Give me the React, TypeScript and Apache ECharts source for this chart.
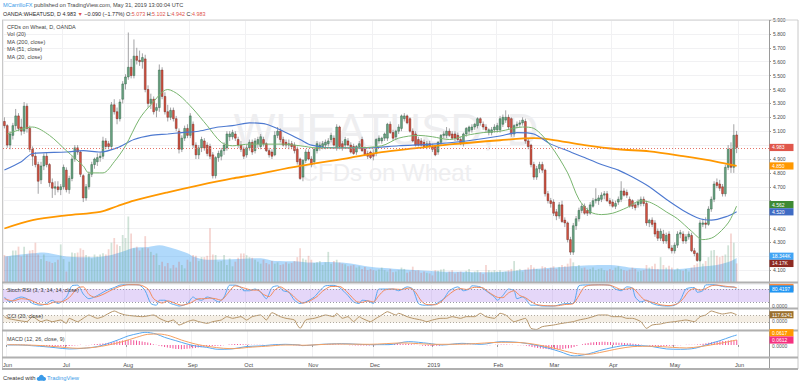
import React, { useEffect, useRef } from "react";
import * as echarts from "echarts";

const FONT = "'Liberation Sans', Arial, sans-serif";

// ---------- Daily candles [open, high, low, close] ----------
const ohlcJun18 = [
  [5.17, 5.2, 5.12, 5.14], [5.14, 5.15, 4.98, 5.0], [5.0, 5.1, 4.97, 5.08], [5.07, 5.16, 5.04, 5.14],
  [5.14, 5.26, 5.11, 5.21], [5.21, 5.23, 5.1, 5.12], [5.13, 5.19, 5.07, 5.1], [5.1, 5.31, 5.08, 5.28],
  [5.28, 5.3, 5.09, 5.12], [5.12, 5.14, 4.95, 4.97], [4.97, 4.99, 4.85, 4.92], [4.92, 4.95, 4.84, 4.86],
  [4.86, 4.88, 4.65, 4.74], [4.75, 4.88, 4.72, 4.85], [4.85, 4.94, 4.82, 4.92], [4.92, 4.95, 4.84, 4.86],
  [4.86, 4.87, 4.7, 4.73], [4.73, 4.76, 4.62, 4.69], [4.69, 4.74, 4.64, 4.7], [4.7, 4.74, 4.66, 4.68],
  [4.68, 4.72, 4.64, 4.7],
];
const ohlcJul18 = [
  [4.7, 4.86, 4.68, 4.84], [4.82, 4.84, 4.66, 4.68], [4.68, 4.78, 4.65, 4.76], [4.76, 4.92, 4.74, 4.9],
  [4.9, 5.0, 4.88, 4.98], [4.98, 5.0, 4.93, 4.95], [4.95, 4.96, 4.77, 4.79], [4.78, 4.79, 4.59, 4.62],
  [4.62, 4.72, 4.6, 4.7], [4.7, 4.81, 4.68, 4.79], [4.79, 4.88, 4.77, 4.86], [4.86, 4.91, 4.83, 4.9],
  [4.88, 4.94, 4.85, 4.91], [4.91, 4.95, 4.88, 4.92], [4.92, 5.06, 4.9, 5.03], [5.03, 5.05, 4.97, 4.99],
  [5.01, 5.03, 4.97, 4.99], [4.99, 5.31, 4.98, 5.29], [5.29, 5.33, 5.22, 5.24], [5.24, 5.27, 5.15, 5.19],
  [5.19, 5.33, 5.17, 5.31], [5.33, 5.46, 5.3, 5.44],
];
const ohlcAug18 = [
  [5.44, 5.51, 5.4, 5.49], [5.49, 5.81, 5.47, 5.56], [5.56, 5.62, 5.48, 5.5], [5.5, 5.76, 5.48, 5.64],
  [5.64, 5.7, 5.58, 5.61], [5.61, 5.68, 5.57, 5.6], [5.6, 5.66, 5.55, 5.63], [5.62, 5.65, 5.38, 5.4],
  [5.4, 5.43, 5.27, 5.3], [5.3, 5.37, 5.26, 5.33], [5.33, 5.35, 5.22, 5.24], [5.25, 5.3, 5.2, 5.27],
  [5.27, 5.58, 5.24, 5.54], [5.54, 5.56, 5.33, 5.35], [5.35, 5.38, 5.22, 5.24], [5.24, 5.29, 5.17, 5.2],
  [5.2, 5.27, 5.18, 5.25], [5.25, 5.27, 5.17, 5.19], [5.19, 5.21, 5.1, 5.12], [5.1, 5.12, 4.94, 4.97],
  [4.97, 5.07, 4.95, 5.05], [5.05, 5.14, 5.03, 5.12], [5.12, 5.15, 5.05, 5.07],
];
const ohlcSep18 = [
  [5.07, 5.23, 5.05, 5.21], [5.15, 5.17, 4.98, 5.0], [5.0, 5.02, 4.9, 4.93], [4.93, 5.0, 4.9, 4.98],
  [4.98, 5.06, 4.95, 5.04], [5.03, 5.05, 4.96, 4.98], [5.0, 5.02, 4.92, 4.94], [4.99, 5.01, 4.9, 4.92],
  [4.93, 4.95, 4.76, 4.78], [4.78, 4.92, 4.76, 4.91], [4.91, 4.96, 4.88, 4.94], [4.92, 4.98, 4.89, 4.96],
  [4.96, 5.02, 4.93, 5.0], [4.98, 5.1, 4.96, 5.08], [5.06, 5.1, 5.03, 5.08], [5.06, 5.11, 5.04, 5.09],
  [5.08, 5.1, 5.03, 5.05], [5.04, 5.06, 4.98, 5.0], [5.0, 5.03, 4.95, 4.97], [4.97, 4.99, 4.9, 4.92],
];
const ohlcOct18 = [
  [4.93, 5.0, 4.91, 4.98], [4.98, 5.04, 4.96, 5.02], [5.02, 5.04, 4.93, 4.95], [4.96, 5.05, 4.94, 5.03],
  [5.01, 5.06, 4.98, 5.04], [4.99, 5.08, 4.97, 5.06], [5.04, 5.06, 4.99, 5.01], [5.01, 5.02, 4.95, 4.96],
  [4.96, 4.98, 4.91, 4.93], [4.95, 4.97, 4.9, 4.92], [4.93, 5.1, 4.92, 5.07], [5.07, 5.13, 5.05, 5.1],
  [5.1, 5.12, 5.02, 5.04], [5.04, 5.06, 4.99, 5.0], [5.02, 5.04, 4.98, 5.0], [5.0, 5.04, 4.97, 5.01],
  [5.01, 5.03, 4.97, 4.99], [5.0, 5.02, 4.94, 4.96], [4.97, 4.99, 4.86, 4.88], [4.9, 4.91, 4.75, 4.76],
  [4.77, 4.9, 4.74, 4.89], [4.89, 4.97, 4.87, 4.95], [4.95, 4.97, 4.89, 4.9],
];
const ohlcNov18 = [
  [4.9, 4.92, 4.84, 4.86], [4.88, 4.98, 4.86, 4.97], [4.96, 5.03, 4.94, 5.01], [4.98, 5.02, 4.96, 5.0],
  [4.99, 5.03, 4.97, 5.01], [5.0, 5.04, 4.97, 5.02], [5.01, 5.05, 4.99, 5.03], [5.04, 5.09, 5.02, 5.07],
  [5.05, 5.07, 4.99, 5.0], [4.98, 5.15, 4.96, 5.13], [5.13, 5.14, 4.97, 4.99], [5.01, 5.03, 4.96, 4.98],
  [5.0, 5.06, 4.98, 5.04], [5.03, 5.05, 4.99, 5.0], [5.0, 5.02, 4.94, 4.95], [4.99, 5.01, 4.93, 4.94],
  [4.95, 5.0, 4.93, 4.99], [4.99, 5.03, 4.97, 5.01], [5.04, 5.06, 4.95, 4.96], [4.97, 4.99, 4.92, 4.93],
  [4.94, 4.96, 4.9, 4.92], [4.95, 4.96, 4.9, 4.91],
];
const ohlcDec18 = [
  [4.94, 4.97, 4.89, 4.92], [4.94, 5.05, 4.92, 5.04], [5.03, 5.07, 5.01, 5.05], [5.03, 5.06, 5.01, 5.05],
  [5.05, 5.09, 5.03, 5.08], [5.05, 5.16, 5.03, 5.15], [5.15, 5.17, 5.08, 5.09], [5.09, 5.11, 5.03, 5.05],
  [5.06, 5.11, 5.04, 5.1], [5.1, 5.15, 5.08, 5.13], [5.12, 5.22, 5.1, 5.21], [5.19, 5.23, 5.17, 5.21],
  [5.21, 5.22, 5.15, 5.16], [5.19, 5.2, 5.09, 5.1], [5.1, 5.12, 5.02, 5.03], [5.08, 5.1, 4.99, 5.0],
  [5.04, 5.06, 4.99, 5.0], [5.03, 5.05, 4.99, 5.0], [5.02, 5.04, 4.98, 4.99], [4.99, 5.03, 4.97, 5.01],
  [5.01, 5.03, 4.98, 4.99],
];
const ohlcJan19 = [
  [4.99, 5.01, 4.95, 4.97], [4.99, 5.0, 4.92, 4.93], [4.95, 5.03, 4.93, 5.02], [5.02, 5.08, 5.0, 5.07],
  [5.07, 5.1, 5.05, 5.08], [5.07, 5.13, 5.05, 5.1], [5.1, 5.12, 5.06, 5.07], [5.08, 5.1, 5.04, 5.05],
  [5.08, 5.1, 5.03, 5.05], [5.07, 5.09, 5.03, 5.04], [5.04, 5.06, 5.0, 5.01], [5.01, 5.09, 4.99, 5.08],
  [5.08, 5.13, 5.06, 5.12], [5.1, 5.14, 5.08, 5.13], [5.11, 5.15, 5.09, 5.13], [5.13, 5.16, 5.11, 5.15],
  [5.14, 5.2, 5.12, 5.19], [5.19, 5.2, 5.14, 5.16], [5.15, 5.17, 5.11, 5.13], [5.13, 5.15, 5.09, 5.11],
  [5.09, 5.12, 5.07, 5.11], [5.09, 5.13, 5.07, 5.11], [5.11, 5.15, 5.09, 5.13],
];
const ohlcFeb19 = [
  [5.11, 5.16, 5.09, 5.14], [5.11, 5.21, 5.09, 5.19], [5.15, 5.22, 5.13, 5.2], [5.18, 5.25, 5.16, 5.2],
  [5.2, 5.22, 5.11, 5.13], [5.19, 5.2, 5.06, 5.08], [5.08, 5.15, 5.06, 5.14], [5.14, 5.17, 5.12, 5.15],
  [5.15, 5.18, 5.13, 5.16], [5.16, 5.2, 5.14, 5.18], [5.17, 5.19, 5.01, 5.03], [5.03, 5.05, 4.97, 4.99],
  [5.0, 5.01, 4.84, 4.86], [4.86, 4.88, 4.75, 4.77], [4.77, 4.85, 4.75, 4.83], [4.83, 4.88, 4.8, 4.86],
  [4.86, 4.88, 4.8, 4.82], [4.82, 4.83, 4.63, 4.65], [4.65, 4.67, 4.58, 4.6], [4.6, 4.62, 4.55, 4.58],
];
const ohlcMar19 = [
  [4.59, 4.61, 4.49, 4.51], [4.52, 4.54, 4.46, 4.49], [4.49, 4.59, 4.47, 4.57], [4.57, 4.6, 4.44, 4.45],
  [4.46, 4.48, 4.41, 4.44], [4.44, 4.45, 4.3, 4.32], [4.32, 4.34, 4.21, 4.23], [4.23, 4.44, 4.21, 4.42],
  [4.42, 4.49, 4.39, 4.47], [4.47, 4.55, 4.45, 4.53], [4.53, 4.58, 4.51, 4.56], [4.56, 4.58, 4.5, 4.51],
  [4.53, 4.55, 4.49, 4.51], [4.51, 4.59, 4.5, 4.57], [4.56, 4.62, 4.55, 4.6], [4.6, 4.69, 4.58, 4.61],
  [4.6, 4.64, 4.57, 4.62], [4.61, 4.66, 4.59, 4.64], [4.64, 4.67, 4.61, 4.65], [4.65, 4.67, 4.59, 4.6],
  [4.6, 4.62, 4.56, 4.58],
];
const ohlcApr19 = [
  [4.59, 4.61, 4.55, 4.56], [4.56, 4.6, 4.54, 4.58], [4.59, 4.63, 4.57, 4.61], [4.61, 4.74, 4.59, 4.67],
  [4.67, 4.69, 4.63, 4.64], [4.66, 4.68, 4.62, 4.64], [4.61, 4.63, 4.55, 4.56], [4.6, 4.61, 4.54, 4.56],
  [4.57, 4.59, 4.53, 4.55], [4.57, 4.61, 4.55, 4.59], [4.58, 4.63, 4.56, 4.61], [4.61, 4.63, 4.56, 4.58],
  [4.58, 4.6, 4.42, 4.44], [4.44, 4.47, 4.41, 4.46], [4.46, 4.48, 4.41, 4.43], [4.44, 4.46, 4.34, 4.36],
  [4.38, 4.4, 4.31, 4.33], [4.33, 4.4, 4.31, 4.38], [4.36, 4.39, 4.29, 4.31], [4.31, 4.37, 4.29, 4.35],
  [4.36, 4.38, 4.25, 4.26], [4.26, 4.28, 4.22, 4.24],
];
const ohlcMay19 = [
  [4.24, 4.3, 4.22, 4.28], [4.28, 4.38, 4.26, 4.36], [4.36, 4.39, 4.33, 4.37], [4.36, 4.38, 4.29, 4.31],
  [4.31, 4.36, 4.29, 4.34], [4.34, 4.38, 4.32, 4.36], [4.35, 4.37, 4.23, 4.24], [4.24, 4.26, 4.2, 4.22],
  [4.22, 4.23, 4.16, 4.17], [4.17, 4.46, 4.16, 4.44], [4.43, 4.47, 4.41, 4.44], [4.44, 4.48, 4.4, 4.43],
  [4.43, 4.56, 4.42, 4.54], [4.54, 4.63, 4.52, 4.61], [4.61, 4.74, 4.59, 4.72], [4.73, 4.76, 4.69, 4.71],
  [4.72, 4.75, 4.67, 4.69], [4.7, 4.72, 4.63, 4.65], [4.65, 4.86, 4.63, 4.84], [4.84, 5.0, 4.82, 4.97],
  [4.97, 5.02, 4.8, 4.84], [4.84, 5.15, 4.8, 5.07], [5.073, 5.102, 4.942, 4.983],
];
const ohlc = [
  ...ohlcJun18, ...ohlcJul18, ...ohlcAug18, ...ohlcSep18, ...ohlcOct18, ...ohlcNov18,
  ...ohlcDec18, ...ohlcJan19, ...ohlcFeb19, ...ohlcMar19, ...ohlcApr19, ...ohlcMay19,
];

// ---------- Volume (thousands) ----------
const volJun18 = [20.6, 19.5, 19.5, 24, 24, 27, 19.5, 27, 21, 24, 24.5, 30, 21, 17.5, 21, 16, 15.5, 14.5, 15, 17, 28.7];
const volJul18 = [17.5, 8, 15.5, 22.5, 22, 22.5, 25.7, 24.5, 20.6, 19.5, 18, 21, 19.5, 21, 22, 21, 25, 30, 33.6, 28.7, 27.5, 35.9];
const volAug18 = [33.6, 50, 37, 25.7, 27, 24, 26, 35, 25.7, 23, 20.6, 21.8, 13, 15.5, 12, 14.5, 10.4, 13, 11, 15.5, 13, 10.4, 17];
const volSep18 = [15.5, 20.6, 20, 16, 19, 19, 20, 41, 21, 20.6, 15.5, 16, 20.6, 13, 18, 12, 15.5, 18.5, 21.8, 21.8];
const volOct18 = [20.5, 19, 18.5, 17, 15.5, 14, 17, 14.5, 13.5, 16, 14, 15, 13, 13.5, 15, 14, 14.5, 16, 19, 25.7, 18, 17, 20];
const volNov18 = [17, 14.5, 15, 16, 13, 15, 23, 14, 16, 17, 15, 14, 13.5, 12, 12.5, 13, 11, 12, 10, 11.5, 9, 10];
const volDec18 = [9, 8.5, 9.5, 11, 9, 8, 10, 7.5, 8, 9, 11, 10, 7, 8, 11.7, 8.5, 9, 7, 8, 7, 6.5];
const volJan19 = [5, 9, 8.5, 9.5, 10, 7, 8, 9, 6.5, 7.5, 8, 7, 8.5, 10, 7, 8, 9, 7.5, 6, 13, 9, 8, 9];
const volFeb19 = [8, 9, 7.5, 8, 9, 10, 16, 9, 10, 8, 9.5, 11, 13, 11, 10, 9.5, 12, 11.5, 10, 11];
const volMar19 = [12, 10, 11.5, 13, 12, 14, 18, 15, 11.7, 13, 10.5, 11, 9.5, 10, 11, 9, 10, 10.5, 9, 8.5, 10];
const volApr19 = [9, 11, 12, 10, 9, 8.5, 9.5, 11, 10, 8, 8.5, 9, 13, 11, 12, 14, 10, 19, 13, 11, 12.5, 11];
const volMay19 = [9, 10.5, 9, 8.5, 10, 8, 11, 13, 14.2, 18, 14, 16, 19, 24, 24.4, 20, 19, 20, 21, 28, 37, 30, 14.17];
const volumeK = [
  ...volJun18, ...volJul18, ...volAug18, ...volSep18, ...volOct18, ...volNov18,
  ...volDec18, ...volJan19, ...volFeb19, ...volMar19, ...volApr19, ...volMay19,
];

// ---------- Indicator lines: [bar index, value] ----------
const ma200Points = [
  [0, 4.4], [10, 4.46], [22, 4.495], [34, 4.52], [40, 4.56], [46, 4.6], [58, 4.66], [69, 4.71], [81, 4.76],
  [87, 4.78], [105, 4.85], [123, 4.91], [134, 4.95], [147, 4.98], [158, 5.005], [176, 5.035], [188, 5.05],
  [194, 5.04], [206, 5.0], [218, 4.97], [229, 4.955], [241, 4.92], [253, 4.88], [260, 4.85],
];
const ma51Points = [
  [0, 4.82], [6, 4.88], [10, 4.94], [22, 4.95], [28, 4.96], [34, 4.95], [40, 4.98], [46, 5.04], [52, 5.07],
  [58, 5.08], [63, 5.09], [69, 5.1], [76, 5.13], [81, 5.14], [87, 5.16], [93, 5.15], [99, 5.1], [105, 5.04],
  [109, 5.0], [117, 4.98], [129, 4.98], [140, 4.995], [152, 5.007], [164, 5.03], [176, 5.065], [182, 5.09],
  [188, 5.08], [194, 5.007], [200, 4.96], [206, 4.91], [212, 4.86], [218, 4.82], [223, 4.77], [229, 4.7],
  [235, 4.61], [241, 4.53], [247, 4.47], [251, 4.46], [257, 4.49], [260, 4.52],
];
const ma20Points = [
  [1, 5.08], [10, 5.13], [16, 5.07], [22, 4.96], [28, 4.85], [30, 4.8], [35, 4.8], [39, 4.88], [43, 4.995],
  [48, 5.19], [52, 5.29], [58, 5.4], [62, 5.36], [67, 5.26], [72, 5.14], [77, 5.02], [81, 4.995], [87, 5.007],
  [99, 5.007], [105, 4.995], [111, 4.98], [123, 4.98], [134, 4.995], [140, 5.05], [147, 5.07], [152, 5.06],
  [158, 5.04], [164, 5.07], [170, 5.09], [176, 5.1], [184, 5.13], [188, 5.12], [194, 4.995], [200, 4.8],
  [204, 4.61], [208, 4.52], [212, 4.5], [216, 4.51], [221, 4.55], [226, 4.6], [229, 4.59], [232, 4.56],
  [235, 4.52], [239, 4.47], [244, 4.38], [248, 4.32], [252, 4.34], [257, 4.44], [260, 4.562],
];
const volMa20Points = [
  [0, 19.5], [10, 21.9], [14, 22.6], [22, 19.5], [32, 18.9], [38, 20.6], [42, 23.2], [46, 26.2], [51, 26.8],
  [55, 28.1], [60, 25.6], [65, 21.9], [67, 19.5], [72, 16.9], [81, 17.3], [89, 18.1], [91, 18.1], [96, 16],
  [103, 15.8], [109, 14.8], [115, 15.3], [120, 14.8], [126, 13], [132, 11], [138, 10.2], [144, 9.4],
  [150, 8.6], [156, 7.9], [162, 7.9], [168, 7.4], [174, 7.4], [180, 8.2], [188, 9.9], [200, 11.7],
  [212, 12.9], [218, 12.5], [223, 10.9], [229, 10.2], [235, 9.7], [241, 10.2], [247, 11.7], [253, 12.9],
  [258, 16], [260, 18.344],
];
const stochKPoints = [
  [0, 43], [2, 20], [4, 35], [6, 43], [8, 35], [10, 13], [13, 5], [15, 13], [17, 28], [19, 13], [22, 43],
  [24, 95], [26, 98], [28, 57], [30, 35], [32, 43], [34, 57], [36, 72], [39, 87], [41, 98], [43, 100],
  [46, 100], [48, 98], [50, 72], [52, 13], [54, 5], [55, 28], [57, 28], [59, 13], [61, 5], [62, 1], [65, 13],
  [67, 43], [68, 35], [70, 28], [72, 43], [74, 35], [76, 20], [78, 43], [80, 98], [82, 98], [84, 87],
  [85, 72], [87, 72], [89, 80], [91, 65], [93, 35], [95, 87], [97, 95], [99, 72], [101, 65], [103, 28],
  [105, 13], [107, 20], [110, 43], [112, 72], [114, 95], [117, 97], [119, 87], [122, 50], [124, 20],
  [126, 13], [127, 28], [129, 25], [131, 13], [133, 80], [136, 80], [138, 80], [140, 72], [143, 90],
  [145, 80], [147, 13], [149, 5], [151, 5], [153, 10], [156, 35], [158, 72], [161, 90], [163, 72], [165, 80],
  [166, 95], [169, 90], [171, 72], [174, 43], [175, 28], [177, 50], [179, 80], [181, 72], [182, 35],
  [184, 43], [185, 35], [187, 5], [189, 5], [191, 1], [195, 1], [198, 10], [200, 13], [202, 13], [204, 95],
  [207, 99], [209, 99], [211, 100], [215, 97], [217, 80], [219, 72], [221, 90], [223, 84], [224, 43],
  [226, 20], [228, 28], [230, 13], [232, 5], [235, 1], [238, 5], [240, 28], [242, 80], [245, 87], [246, 65],
  [248, 72], [249, 99], [252, 100], [254, 95], [256, 90], [259, 90], [260, 80.4197],
];
const stochDPoints = [
  [0, 35], [3, 25], [6, 35], [9, 30], [12, 12], [15, 8], [18, 20], [20, 20], [23, 40], [26, 85], [28, 90],
  [30, 55], [32, 42], [35, 55], [38, 75], [41, 92], [44, 100], [48, 99], [51, 80], [53, 35], [56, 15],
  [58, 25], [61, 12], [63, 5], [66, 15], [69, 35], [71, 35], [73, 38], [75, 35], [77, 28], [79, 55], [82, 95],
  [85, 85], [88, 75], [90, 75], [92, 55], [94, 45], [96, 75], [98, 90], [100, 75], [102, 55], [104, 30],
  [106, 15], [108, 22], [111, 45], [113, 70], [116, 92], [119, 92], [121, 75], [123, 48], [125, 22],
  [127, 18], [129, 25], [131, 20], [133, 50], [135, 75], [138, 80], [141, 78], [144, 85], [146, 65],
  [148, 25], [150, 8], [153, 7], [155, 20], [157, 45], [160, 75], [162, 82], [164, 78], [167, 88], [170, 85],
  [172, 65], [175, 42], [177, 40], [179, 62], [181, 72], [183, 50], [185, 40], [187, 22], [189, 8], [192, 3],
  [196, 2], [199, 8], [202, 12], [204, 50], [206, 90], [209, 99], [212, 99], [215, 98], [217, 88], [219, 78],
  [221, 80], [223, 85], [225, 60], [227, 32], [229, 22], [231, 15], [233, 7], [236, 3], [239, 12], [241, 35],
  [243, 70], [245, 82], [247, 75], [249, 82], [251, 95], [253, 98], [256, 93], [258, 90], [260, 87],
];
const cciPoints = [
  [0, 65], [1, 19], [4, -28], [8, -74], [10, 65], [13, -74], [15, -28], [17, -74], [20, -28], [22, -121],
  [23, 19], [26, -74], [28, 19], [30, 111], [33, 19], [35, 65], [36, 111], [39, 222], [41, 158], [43, 111],
  [46, 84], [49, 65], [53, 111], [55, 19], [58, -74], [60, -28], [62, -167], [65, -74], [67, -28], [69, -74],
  [72, -121], [74, -74], [77, -28], [79, 65], [81, 19], [84, 65], [86, -28], [88, 65], [91, 111], [93, -28],
  [95, 176], [98, 65], [100, 19], [103, -28], [104, -167], [105, -260], [107, -28], [110, 19], [112, 65],
  [114, 111], [117, 65], [118, 158], [120, 19], [122, 65], [124, -74], [126, 65], [127, 19], [130, -74],
  [132, 19], [134, 111], [136, 203], [139, 111], [140, 158], [143, 65], [145, 19], [148, -28], [150, -74],
  [152, -28], [155, 19], [157, 19], [159, 65], [162, 19], [164, 65], [167, 65], [169, 158], [171, 65],
  [174, 19], [176, 158], [178, 111], [181, -74], [183, -28], [185, 19], [187, -260], [189, -290],
  [191, -213], [195, -167], [198, -121], [202, -74], [204, -28], [207, 19], [209, 65], [211, 111],
  [214, 111], [216, 65], [219, 65], [221, 19], [223, 19], [226, -74], [228, -260], [230, -167], [233, -139],
  [235, -102], [238, -74], [240, -50], [242, -28], [245, -74], [247, 65], [249, 111], [251, 222], [253, 176],
  [255, 139], [258, 176], [260, 117.6241],
];
const macdPoints = [
  [0, 0], [4, 0], [10, -0.012], [13, -0.02], [17, -0.033], [22, -0.049], [27, -0.041], [32, -0.02],
  [36, 0.02], [40, 0.07], [43, 0.111], [47, 0.144], [49, 0.156], [53, 0.135], [56, 0.094], [60, 0.053],
  [64, 0.012], [67, -0.012], [71, -0.029], [75, -0.053], [80, -0.049], [85, -0.02], [90, -0.012], [94, 0],
  [99, 0.008], [104, 0], [105, -0.008], [112, 0.008], [119, 0.016], [129, 0.004], [136, 0.004],
  [143, 0.041], [150, 0.02], [155, 0], [162, 0.02], [169, 0.008], [176, 0.041], [183, 0.029], [188, 0],
  [193, -0.041], [197, -0.082], [202, -0.135], [207, -0.111], [211, -0.07], [216, -0.029], [221, -0.004],
  [226, -0.008], [230, -0.02], [235, -0.049], [240, -0.053], [245, -0.041], [250, 0.012], [254, 0.053],
  [258, 0.102], [260, 0.1229],
];
const signalPoints = [
  [0, 0.004], [10, -0.004], [17, -0.02], [25, -0.041], [31, -0.029], [36, 0], [41, 0.041], [46, 0.094],
  [50, 0.131], [54, 0.135], [58, 0.111], [62, 0.061], [67, 0.012], [72, -0.02], [77, -0.041], [81, -0.045],
  [86, -0.029], [92, -0.016], [99, 0], [104, 0], [105, -0.004], [117, 0.012], [129, 0.008], [141, 0.025],
  [152, 0.008], [164, 0.012], [176, 0.033], [183, 0.029], [188, 0.008], [195, -0.041], [202, -0.102],
  [207, -0.115], [211, -0.094], [218, -0.045], [223, -0.02], [230, -0.016], [237, -0.029], [242, -0.037],
  [247, -0.02], [254, 0.02], [260, 0.0617],
];
const macdHist = [
  0.004, 0.005, 0.006, 0.006, 0.005, 0.004, 0.003, 0.004, 0.003, 0.0,
  -0.006, -0.01, -0.014, -0.016, -0.017, -0.018, -0.019, -0.02, -0.019, -0.018, -0.017,
  -0.015, -0.013, -0.01, -0.006, -0.002, 0.002, 0.0, -0.004, -0.002, 0.004,
  0.008, 0.012, 0.015, 0.018, 0.022, 0.026, 0.03, 0.04, 0.046, 0.05, 0.054, 0.058,
  0.06, 0.062, 0.058, 0.055, 0.05, 0.044, 0.038, 0.03, 0.02, 0.01, 0.002, -0.008, -0.015,
  -0.025, -0.032, -0.038, -0.044, -0.048, -0.05, -0.052, -0.05, -0.047, -0.044,
  -0.04, -0.036, -0.032, -0.028, -0.024, -0.02, -0.016, -0.014, -0.012, -0.01,
  -0.008, -0.004, 0.0, 0.006, 0.01, 0.012, 0.013, 0.012, 0.01, 0.008,
  0.006, 0.004, 0.003, 0.004, 0.003, 0.002, 0.0, -0.002, 0.002, 0.006, 0.008, 0.008, 0.006, 0.004, 0.002,
  0.0, -0.002, -0.004, -0.008, -0.012, -0.01, -0.006, -0.002, 0.0, 0.002, 0.004, 0.006, 0.008, 0.008, 0.008,
  0.008, 0.006, 0.006, 0.004, 0.002, 0.0, -0.002, -0.004, -0.006, -0.006, -0.006, -0.006, -0.006, -0.006, -0.004,
  -0.002, 0.0, 0.002, 0.004, 0.006, 0.008, 0.01, 0.012, 0.014, 0.014, 0.014, 0.014, 0.012, 0.01, 0.006,
  0.002, -0.004, -0.008, -0.012, -0.014, -0.014, -0.012, -0.01, -0.008, -0.004, 0.0, 0.002, 0.004, 0.004, 0.004,
  0.002, 0.002, 0.002, 0.004, 0.004, 0.004, 0.004, 0.004, 0.002, 0.0, -0.002, -0.002, 0.0, 0.002, 0.004,
  0.006, 0.006, 0.006, 0.004, 0.002, 0.0, -0.002, -0.002, -0.004, -0.01, -0.016, -0.024, -0.032, -0.038, -0.042,
  -0.046, -0.05, -0.052, -0.054, -0.054, -0.052, -0.05, -0.048, -0.044, -0.04, -0.034, -0.024, -0.012, 0.0, 0.01,
  0.018, 0.024, 0.03, 0.034, 0.036, 0.038, 0.04, 0.04, 0.038, 0.036, 0.032, 0.03, 0.028, 0.026, 0.024,
  0.022, 0.02, 0.016, 0.012, 0.008, 0.004, 0.0, -0.004, -0.008, -0.012, -0.014, -0.016, -0.016, -0.014, -0.012,
  -0.01, -0.008, -0.006, -0.004, -0.002, 0.0, 0.002, 0.004, 0.004, 0.004, 0.006, 0.01, 0.016, 0.022, 0.028,
  0.034, 0.04, 0.044, 0.046, 0.048, 0.05, 0.054, 0.058, 0.06, 0.0612,
];

const monthNames = ["Jan", "Feb", "Mar", "Apr", "May", "Jun", "Jul", "Aug", "Sep", "Oct", "Nov", "Dec"];
const EMPTY_SLOTS = 11; // blank space on the right of the last bar

// trading-day categories (weekdays) starting 2018-06-01
function buildDays(count: number): string[] {
  const out: string[] = [];
  let t = Date.UTC(2018, 5, 1);
  while (out.length < count) {
    const d = new Date(t);
    const wd = d.getUTCDay();
    if (wd !== 0 && wd !== 6) out.push(d.toISOString().slice(0, 10));
    t += 86400000;
  }
  return out;
}
const days = buildDays(ohlc.length + EMPTY_SLOTS);
const isMonthStart = (i: number) => i === 0 || days[i].slice(5, 7) !== days[i - 1].slice(5, 7);
const monthLabel = (v: string) => {
  const m = +v.slice(5, 7);
  return m === 1 ? v.slice(0, 4) : monthNames[m - 1];
};

const UP = "#6ba583", DOWN = "#d75442", UP_B = "#225437", DOWN_B = "#5b1a13";
const GRID_LINE = "#f1f1f3";
const L = 3, R = 31;

const grids = [
  { left: L, right: R, top: 20, height: 264.1 },  // price
  { left: L, right: R, top: 20, height: 262 },    // volume overlay
  { left: L, right: R, top: 283, height: 25 },    // stoch rsi
  { left: L, right: R, top: 309, height: 21 },    // cci
  { left: L, right: R, top: 331, height: 26 },    // macd
];

const priceFmt = (hidden: Set<string>) => (v: number) => (v < 4.05 || hidden.has(v.toFixed(3)) ? "" : v.toFixed(3));

function buildOption(): any {
  const xAxes = grids.map((_, gi) => ({
    type: "category",
    gridIndex: gi,
    data: days,
    axisLine: { show: false },
    axisTick: gi === 4 ? { show: true, length: 2, interval: (i: number) => isMonthStart(i), lineStyle: { color: "#999" } } : { show: false },
    axisLabel: gi === 4
      ? { show: true, interval: (i: number) => isMonthStart(i), formatter: monthLabel, fontSize: 5.6, color: "#4a4a4a", margin: 5, fontFamily: FONT }
      : { show: false },
    splitLine: gi === 1 ? { show: false } : { show: true, interval: (i: number) => isMonthStart(i), lineStyle: { color: GRID_LINE, width: 1 } },
  }));
  const hiddenY = (gi: number, min: number, max: number) => ({
    type: "value", gridIndex: gi, min, max, show: true,
    axisLine: { show: false }, axisTick: { show: false }, axisLabel: { show: false }, splitLine: { show: false },
  });
  const yAxes = [
    {
      type: "value", gridIndex: 0, position: "right", min: 4.0, max: 5.9, interval: 0.1,
      axisLine: { show: false },
      axisTick: { show: true, length: 2, lineStyle: { color: "#999" } },
      axisLabel: { fontSize: 5, color: "#4a4a4a", margin: 4, fontFamily: FONT, formatter: priceFmt(new Set()) },
      splitLine: { show: true, lineStyle: { color: GRID_LINE, width: 1 } },
    },
    hiddenY(1, 0, 200),
    hiddenY(2, -8, 108),
    hiddenY(3, -306, 278),
    hiddenY(4, -0.148, 0.172),
  ];

  const lineSeries = (name: string, xi: number, data: number[][], color: string, width: number, z = 4, extra: any = {}) => ({
    name, type: "line", xAxisIndex: xi, yAxisIndex: xi, data, smooth: 0.3, symbol: "none", z,
    lineStyle: { color, width }, silent: true, ...extra,
  });

  return {
    animation: false,
    backgroundColor: "#ffffff",
    grid: grids,
    xAxis: xAxes,
    yAxis: yAxes,
    series: [
      {
        name: "Volume", type: "bar", xAxisIndex: 1, yAxisIndex: 1, barWidth: "62%", z: 1, silent: true,
        data: volumeK.map((v, i) => ({
          value: v,
          itemStyle: { color: ohlc[i][3] >= ohlc[i][0] ? "rgba(107,165,131,0.32)" : "rgba(215,84,66,0.25)" },
        })),
      },
      lineSeries("Vol MA", 1, volMa20Points, "rgba(0,0,0,0)", 0, 1, {
        areaStyle: { color: "rgba(66,165,245,0.42)", opacity: 1 },
      }),
      {
        name: "Price", type: "custom", xAxisIndex: 0, yAxisIndex: 0, z: 3, silent: true,
        data: ohlc.map((d, i) => [i, d[0], d[1], d[2], d[3]]),
        encode: { x: 0, y: [1, 2, 3, 4] },
        renderItem: (_p: any, api: any) => {
          const i = api.value(0);
          const o = api.value(1), h = api.value(2), l = api.value(3), c = api.value(4);
          const po = api.coord([i, o]);
          const pc = api.coord([i, c]);
          const ph = api.coord([i, h]);
          const pl = api.coord([i, l]);
          const bw = Math.max(1.2, api.size([1, 0])[0] * 0.66);
          const x = po[0];
          const up = c >= o;
          const top = Math.min(po[1], pc[1]);
          const hh = Math.max(0.8, Math.abs(po[1] - pc[1]));
          return {
            type: "group",
            children: [
              { type: "line", shape: { x1: x, y1: ph[1], x2: x, y2: pl[1] }, style: { stroke: "#8b8b8e", lineWidth: 0.8 } },
              {
                type: "rect", shape: { x: x - bw / 2, y: top, width: bw, height: hh },
                style: { fill: up ? UP : DOWN, stroke: up ? UP_B : DOWN_B, lineWidth: 0.4 },
              },
            ],
          };
        },
      },
      lineSeries("MA 200", 0, ma200Points, "#ff9800", 1.8, 4, {
        markLine: {
          silent: true, symbol: "none", label: { show: false },
          lineStyle: { color: "#e57368", type: [1, 2], width: 1 },
          data: [{ yAxis: ohlc[ohlc.length - 1][3] }],
        },
      }),
      lineSeries("MA 51", 0, ma51Points, "#4d79d0", 1.1),
      lineSeries("MA 20", 0, ma20Points, "#79b56f", 1),
      lineSeries("Stoch K", 2, stochKPoints, "#58a8f0", 1, 4, {
        smooth: 0.25,
        markArea: { silent: true, itemStyle: { color: "rgba(160,110,235,0.28)" }, data: [[{ yAxis: 20 }, { yAxis: 80 }]] },
        markLine: {
          silent: true, symbol: "none", label: { show: false },
          lineStyle: { color: "#9a9aa4", type: [1, 2], width: 1 },
          data: [{ yAxis: 20 }, { yAxis: 80 }],
        },
      }),
      lineSeries("Stoch D", 2, stochDPoints, "#f38a5a", 1, 4, { smooth: 0.25 }),
      lineSeries("CCI", 3, cciPoints, "#b59468", 1, 4, {
        smooth: 0.2,
        markArea: { silent: true, itemStyle: { color: "rgba(200,170,120,0.2)" }, data: [[{ yAxis: -100 }, { yAxis: 100 }]] },
        markLine: {
          silent: true, symbol: "none", label: { show: false },
          lineStyle: { color: "#b0aaa0", type: [1, 2], width: 1 },
          data: [{ yAxis: -100 }, { yAxis: 100 }],
        },
      }),
      {
        name: "Histogram", type: "bar", xAxisIndex: 4, yAxisIndex: 4, data: macdHist, barWidth: 1, z: 3, silent: true,
        itemStyle: { color: "#f2559a" },
      },
      lineSeries("MACD", 4, macdPoints, "#58a8f0", 1),
      lineSeries("Signal", 4, signalPoints, "#f5a061", 1),
    ],
  };
}

function txt(x: number, y: number, text: string, size: number, fill: string, extra: any = {}): any {
  return {
    type: "text", x, y, z: 50, silent: true,
    style: { text, fontSize: size, fontFamily: FONT, fill, textVerticalAlign: "middle", verticalAlign: "middle", ...extra },
  };
}
function hline(x1: number, x2: number, y: number, color: string, w = 1): any {
  return { type: "line", z: 60, silent: true, shape: { x1, y1: y, x2, y2: y }, style: { stroke: color, lineWidth: w } };
}
function vline(x: number, y1: number, y2: number, color: string, w = 1): any {
  return { type: "line", z: 60, silent: true, shape: { x1: x, y1, x2: x, y2 }, style: { stroke: color, lineWidth: w } };
}

function staticGraphics(): any[] {
  const red = "#e0534a", dark = "#262626";
  const plotR = 800 - R;
  return [
    // watermark
    {
      type: "text", x: (L + plotR) / 2, y: 129, z: 0, silent: true,
      style: { text: "WHEATUSD, D", fontSize: 44, fontFamily: FONT, fill: "#eeeef0", textAlign: "center", align: "center", textVerticalAlign: "middle", verticalAlign: "middle" },
    },
    {
      type: "text", x: (L + plotR) / 2, y: 172, z: 0, silent: true,
      style: { text: "CFDs on Wheat", fontSize: 24, fontFamily: FONT, fill: "#eeeef0", textAlign: "center", align: "center", textVerticalAlign: "middle", verticalAlign: "middle" },
    },
    // header
    txt(3, 5, "{a|MCarrilloFX} published on TradingView.com, May 31, 2019 13:00:04 UTC", 5.6, "#444", {
      rich: { a: { fill: "#3a9ae8", fontSize: 5.6, fontFamily: FONT } },
    }),
    txt(3, 13.5, "{b|OANDA:WHEATUSD, D 4.983 }{r|▼}{b| −0.090 (−1.77%) O:}{r|5.073}{b| H:}{r|5.102}{b| L:}{r|4.942}{b| C:}{r|4.983}", 5.4, dark, {
      rich: {
        b: { fill: dark, fontSize: 5.4, fontFamily: FONT },
        r: { fill: red, fontSize: 5.4, fontFamily: FONT },
      },
    }),
    // legend
    txt(7, 26.5, "CFDs on Wheat, D, OANDA", 5.5, "#444"),
    txt(7, 34, "Vol (20)", 5.5, "#444"),
    txt(7, 41.5, "MA (200, close)", 5.5, "#444"),
    txt(7, 49, "MA (51, close)", 5.5, "#444"),
    txt(7, 56.5, "MA (20, close)", 5.5, "#444"),
    // pane titles
    txt(7, 290, "Stoch RSI (3, 3, 14, 14, close)", 5.4, "#444"),
    txt(7, 316, "CCI (20, close)", 5.4, "#444"),
    txt(7, 338.5, "MACD (12, 26, close, 9)", 5.4, "#444"),
    // frame and separators
    hline(2, 798, 20, "#d0d0d0", 1),
    vline(2.5, 20, 369, "#c8c8c8", 1),
    vline(798, 20, 369, "#c8c8c8", 1),
    vline(plotR + 0.5, 20, 369, "#9a9a9a", 1),
    hline(2, 798, 282.5, "#b0b0b0", 2),
    hline(2, 798, 308.5, "#b0b0b0", 2),
    hline(2, 798, 330.5, "#b0b0b0", 2),
    hline(2, 798, 357.5, "#b0b0b0", 2),
    hline(2, 798, 369, "#b0b0b0", 2),
    // footer
    txt(3, 378, "Created with", 5.8, "#333"),
    { type: "circle", z: 50, silent: true, shape: { cx: 38.6, cy: 378.8, r: 1.9 }, style: { fill: "#3a9ae8" } },
    { type: "circle", z: 50, silent: true, shape: { cx: 41.4, cy: 377.4, r: 2.6 }, style: { fill: "#3a9ae8" } },
    { type: "circle", z: 50, silent: true, shape: { cx: 44.2, cy: 378.9, r: 1.8 }, style: { fill: "#3a9ae8" } },
    { type: "rect", z: 50, silent: true, shape: { x: 38.6, y: 378.6, width: 5.6, height: 2.1 }, style: { fill: "#3a9ae8" } },
    txt(47, 378, "TradingView", 5.8, "#3a9ae8"),
  ];
}

type SideLabel = { axis: number; value: number; text: string; bg: string; fg?: string; plain?: boolean; noText?: boolean };

function last(points: number[][]): number {
  return points[points.length - 1][1];
}
function fmtK(v: number) {
  return `${parseFloat(v.toFixed(3))}K`;
}

function sideLabels(chart: echarts.ECharts): { elements: any[]; priceYs: number[] } {
  const lastClose = ohlc[ohlc.length - 1][3];
  const groups: { labels: SideLabel[]; resolve: boolean }[] = [
    {
      resolve: true,
      labels: [
        { axis: 0, value: lastClose, text: lastClose.toFixed(3), bg: "#e0574b" },
        { axis: 0, value: last(ma200Points), text: last(ma200Points).toFixed(3), bg: "#ff9800" },
        { axis: 0, value: last(ma20Points), text: last(ma20Points).toFixed(3), bg: "#3e8a33" },
        { axis: 0, value: last(ma51Points), text: last(ma51Points).toFixed(3), bg: "#3f6bc4" },
        { axis: 1, value: last(volMa20Points), text: fmtK(last(volMa20Points)), bg: "#42a5f5" },
        { axis: 1, value: volumeK[volumeK.length - 1], text: fmtK(volumeK[volumeK.length - 1]), bg: "#8e2a22" },
      ],
    },
    {
      resolve: false,
      labels: [
        { axis: 2, value: last(stochDPoints), text: "", bg: "#ff8a3d", noText: true },
        { axis: 2, value: last(stochKPoints), text: last(stochKPoints).toFixed(4), bg: "#2196f3" },
        { axis: 2, value: 0, text: "0.0000", bg: "", fg: "#555", plain: true },
      ],
    },
    {
      resolve: false,
      labels: [
        { axis: 3, value: last(cciPoints), text: last(cciPoints).toFixed(4), bg: "#9b6f2c" },
        { axis: 3, value: 0, text: "0.0000", bg: "", fg: "#555", plain: true },
      ],
    },
    {
      resolve: true,
      labels: [
        { axis: 4, value: last(signalPoints), text: last(signalPoints).toFixed(4), bg: "#ff9800" },
        { axis: 4, value: macdHist[macdHist.length - 1], text: macdHist[macdHist.length - 1].toFixed(4), bg: "#f5317f" },
        { axis: 4, value: 0, text: "0.0000", bg: "", fg: "#555", plain: true },
      ],
    },
  ];
  const out: any[] = [];
  const priceYs: number[] = [];
  const x0 = 800 - R;
  const gap = 7.2;
  for (const g of groups) {
    const placed = g.labels.map((lb) => ({ lb, y: chart.convertToPixel({ yAxisIndex: lb.axis } as any, lb.value) as number }));
    const boxes = placed.filter((p) => !p.lb.plain);
    if (g.resolve) {
      const sorted = [...boxes].sort((a, b) => a.y - b.y);
      for (let i = sorted.length - 2; i >= 0; i--) {
        if (sorted[i].y > sorted[i + 1].y - gap) sorted[i].y = sorted[i + 1].y - gap;
      }
    }
    // plain (unboxed) texts step below any box they would touch
    for (const p of placed.filter((q) => q.lb.plain)) {
      for (const b of boxes) {
        if (Math.abs(p.y - b.y) < 6.4) p.y = b.y + 6.4;
      }
    }
    for (const p of placed) {
      if (p.lb.axis <= 1) priceYs.push(p.y);
      if (!p.lb.plain) {
        out.push({
          type: "rect", z: 70, silent: true,
          shape: { x: x0 + 0.5, y: p.y - 3.6, width: 24, height: 7.2 },
          style: { fill: p.lb.bg },
        });
      }
      if (!p.lb.noText) {
        out.push({
          type: "text", z: 71, silent: true, x: x0 + 3, y: p.y,
          style: {
            text: p.lb.text, fontSize: 5, fontFamily: FONT, fill: p.lb.fg || "#ffffff",
            textVerticalAlign: "middle", verticalAlign: "middle",
          },
        });
      }
    }
  }
  return { elements: out, priceYs };
}

export default function App() {
  const ref = useRef<HTMLDivElement>(null);
  useEffect(() => {
    const el = ref.current;
    if (!el) return;
    const chart = echarts.init(el, undefined, { renderer: "svg" });
    chart.setOption(buildOption());
    const { elements, priceYs } = sideLabels(chart);
    // price-scale ticks that sit under a value box are covered, as on the original
    const hidden = new Set<string>();
    for (let k = 40; k <= 59; k++) {
      const v = k / 10;
      const y = chart.convertToPixel({ yAxisIndex: 0 } as any, v) as number;
      if (priceYs.some((ly) => Math.abs(ly - y) < 6.3)) hidden.add(v.toFixed(3));
    }
    chart.setOption({
      yAxis: [{ axisLabel: { formatter: priceFmt(hidden) } }],
      graphic: { elements: [...staticGraphics(), ...elements] },
    });
    return () => chart.dispose();
  }, []);
  return (
    <div
      ref={ref}
      style={{ position: "absolute", left: 0, top: 0, width: 800, height: 386, background: "#ffffff" }}
    />
  );
}
